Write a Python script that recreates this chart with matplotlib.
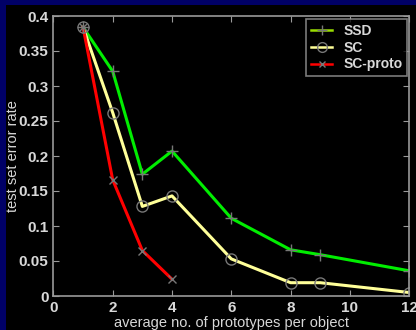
import numpy as np
import matplotlib
matplotlib.use("Agg")
import matplotlib.pyplot as plt
from matplotlib.patches import Rectangle
from matplotlib.lines import Line2D

# data
ssd_x = [1, 2, 3, 4, 6, 8, 9, 12]
ssd_y = [0.384, 0.321, 0.174, 0.207, 0.111, 0.066, 0.059, 0.036]
sc_x = [1, 2, 3, 4, 6, 8, 9, 12]
sc_y = [0.384, 0.262, 0.128, 0.143, 0.053, 0.019, 0.019, 0.005]
proto_x = [1, 2, 3, 4]
proto_y = [0.384, 0.166, 0.065, 0.024]

xticks = [0, 2, 4, 6, 8, 10, 12]
yticks = [0, 0.05, 0.1, 0.15, 0.2, 0.25, 0.3, 0.35, 0.4]
yticklabels = ["0", "0.05", "0.1", "0.15", "0.2", "0.25", "0.3", "0.35", "0.4"]

txt = "#d8d8d8"
plt.rcParams['font.family'] = ['Liberation Sans', 'DejaVu Sans']
plt.rcParams['font.weight'] = 'bold'

fig = plt.figure(figsize=(4.16, 3.30), dpi=100, facecolor="black")
# navy slide border at top and left
fig.patches.append(Rectangle((0, 0), 6 / 416, 1, transform=fig.transFigure,
                             facecolor="#000066", edgecolor="none", zorder=-1))
fig.patches.append(Rectangle((0, 1 - 5 / 330), 1, 5 / 330, transform=fig.transFigure,
                             facecolor="#000066", edgecolor="none", zorder=-1))

ax = fig.add_axes([53.4 / 416, 34 / 330, 355.8 / 416, 280 / 330], facecolor="black")

ax.plot(ssd_x, ssd_y, color="#00ee00", lw=2.2, label="SSD")
ax.plot(sc_x, sc_y, color="#ffff99", lw=2.2, label="SC")
ax.plot(proto_x, proto_y, color="#ff0000", lw=2.2, label="SC-proto")
ax.plot(ssd_x, ssd_y, ls="none", marker="+", ms=8, mec="#777777", mew=1)
ax.plot(sc_x, sc_y, ls="none", marker="o", ms=8, mfc="none", mec="#777777", mew=1)
ax.plot(proto_x, proto_y, ls="none", marker="x", ms=6, mec="#777777", mew=1)

ax.set_xlim(0, 12)
ax.set_ylim(0, 0.4)
ax.set_xticks(xticks)
ax.set_yticks(yticks)
ax.set_yticklabels(yticklabels)
for s in ax.spines.values():
    s.set_color("#999999")
    s.set_linewidth(1.2)
ax.tick_params(direction="in", top=True, right=True, colors="#999999",
               labelcolor=txt, labelsize=11, length=4)

ax.set_xlabel("average no. of prototypes per object", color=txt, fontsize=10.5, labelpad=1)
ax.set_ylabel("test set error rate", color=txt, fontsize=10.5)
ax.yaxis.set_label_coords(-0.094, 0.5)

handles = [
    Line2D([], [], color="#99dd00", lw=1.8, marker="+", ms=7, mec="#777777"),
    Line2D([], [], color="#ffff99", lw=1.8, marker="o", ms=7, mfc="none", mec="#777777"),
    Line2D([], [], color="#ff0000", lw=1.8, marker="x", ms=5, mec="#777777"),
]
leg = ax.legend(handles, ["SSD", "SC", "SC-proto"], loc="upper right",
                fontsize=10, frameon=True, fancybox=False, facecolor="black",
                edgecolor="#999999", labelcolor=txt, handlelength=1.5,
                handletextpad=0.8, borderpad=0.35, labelspacing=0.2,
                borderaxespad=0, bbox_to_anchor=(0.994, 0.989))
leg.get_frame().set_linewidth(1.2)

fig.savefig("out.png", dpi=100, facecolor=fig.get_facecolor())
